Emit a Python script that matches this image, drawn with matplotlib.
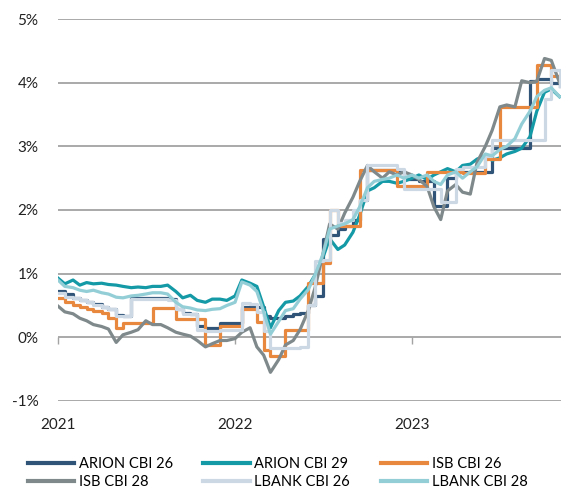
import pandas as pd
import matplotlib
matplotlib.use("Agg")
import matplotlib.pyplot as plt

# semi-monthly observations, Jan 2021 - Nov 2023 (values in %)
dates = pd.date_range("2021-01-01", periods=69, freq="SMS")

arion_26 = [0.73, 0.68, 0.62, 0.58, 0.55, 0.52, 0.48, 0.45, 0.35, 0.33,
            0.62, 0.62, 0.62, 0.62, 0.62, 0.60, 0.45, 0.38, 0.36, 0.17,
            0.15, 0.15, 0.22, 0.22, 0.22, 0.48, 0.48, 0.48, 0.33, 0.30,
            0.30, 0.33, 0.36, 0.38, 0.50, 0.65, 1.55, 1.60, 1.70, 1.75,
            1.85, 2.15, 2.63, 2.63, 2.63, 2.63, 2.63, 2.48, 2.48, 2.45,
            2.45, 2.07, 2.07, 2.50, 2.60, 2.60, 2.60, 2.60, 2.60, 2.97,
            2.97, 2.97, 2.97, 2.97, 4.03, 4.05, 4.05, 4.00, 3.95]
arion_29 = [0.93, 0.84, 0.90, 0.82, 0.86, 0.84, 0.85, 0.83, 0.82, 0.80,
            0.78, 0.79, 0.78, 0.80, 0.80, 0.82, 0.72, 0.62, 0.66, 0.58,
            0.55, 0.60, 0.60, 0.58, 0.65, 0.90, 0.85, 0.80, 0.48, 0.15,
            0.42, 0.55, 0.57, 0.65, 0.80, 0.98, 1.25, 1.55, 1.38, 1.45,
            1.65, 1.92, 2.30, 2.35, 2.45, 2.45, 2.42, 2.45, 2.50, 2.55,
            2.48, 2.55, 2.60, 2.65, 2.60, 2.70, 2.72, 2.80, 2.85, 2.78,
            2.82, 2.88, 2.92, 2.97, 3.15, 3.55, 3.85, 3.90, 3.78]
isb_26 = [0.62, 0.55, 0.50, 0.48, 0.45, 0.42, 0.38, 0.30, 0.15, 0.23,
          0.23, 0.23, 0.23, 0.46, 0.46, 0.46, 0.28, 0.28, 0.28, 0.28,
          -0.12, -0.12, 0.18, 0.18, 0.18, 0.45, 0.45, 0.24, -0.20, -0.30,
          -0.30, 0.12, 0.12, 0.12, 0.85, 0.85, 1.17, 2.00, 1.75, 1.75,
          1.75, 2.63, 2.63, 2.63, 2.63, 2.63, 2.37, 2.37, 2.37, 2.37,
          2.60, 2.60, 2.60, 2.60, 2.60, 2.58, 2.58, 2.58, 2.80, 2.80,
          3.62, 3.62, 3.62, 3.62, 3.62, 4.27, 4.27, 4.10, 4.02]
isb_28 = [0.49, 0.40, 0.37, 0.30, 0.26, 0.20, 0.17, 0.13, -0.08, 0.04,
          0.08, 0.12, 0.26, 0.20, 0.20, 0.15, 0.08, 0.05, 0.02, -0.05,
          -0.15, -0.10, -0.05, -0.05, -0.02, 0.08, 0.15, -0.15, -0.28, -0.55,
          -0.35, -0.12, -0.05, 0.12, 0.42, 0.78, 1.30, 1.78, 1.70, 1.95,
          2.20, 2.45, 2.70, 2.60, 2.50, 2.60, 2.55, 2.60, 2.55, 2.48,
          2.37, 2.05, 1.85, 2.30, 2.40, 2.28, 2.25, 2.75, 3.00, 3.25,
          3.62, 3.65, 3.62, 4.03, 4.00, 4.02, 4.38, 4.35, 4.00]
lbank_26 = [0.70, 0.64, 0.62, 0.58, 0.55, 0.50, 0.47, 0.44, 0.33, 0.33,
            0.60, 0.60, 0.60, 0.60, 0.60, 0.58, 0.44, 0.36, 0.36, 0.12,
            0.10, 0.10, 0.12, 0.12, 0.12, 0.54, 0.52, 0.40, 0.10, -0.17,
            -0.17, -0.17, -0.17, -0.15, 0.50, 1.20, 1.22, 2.00, 1.80, 1.85,
            2.00, 2.15, 2.70, 2.70, 2.70, 2.70, 2.65, 2.33, 2.33, 2.33,
            2.33, 2.33, 2.13, 2.13, 2.65, 2.68, 2.68, 2.68, 2.85, 3.10,
            3.10, 3.10, 3.10, 3.10, 3.10, 3.10, 3.75, 4.20, 3.95]
lbank_28 = [0.90, 0.80, 0.78, 0.74, 0.72, 0.74, 0.70, 0.68, 0.63, 0.62,
            0.65, 0.66, 0.68, 0.70, 0.70, 0.68, 0.55, 0.48, 0.46, 0.43,
            0.42, 0.44, 0.45, 0.50, 0.55, 0.87, 0.82, 0.72, 0.40, 0.05,
            0.25, 0.42, 0.45, 0.60, 0.75, 0.98, 1.30, 1.70, 1.75, 1.78,
            1.85, 2.05, 2.35, 2.45, 2.48, 2.50, 2.55, 2.50, 2.55, 2.50,
            2.55, 2.45, 2.40, 2.55, 2.60, 2.50, 2.60, 2.68, 2.88, 2.85,
            2.95, 3.00, 3.12, 3.35, 3.55, 3.78, 3.88, 3.92, 3.78]

labels = ["ARION CBI 26", "ARION CBI 29", "ISB CBI 26",
          "ISB CBI 28", "LBANK CBI 26", "LBANK CBI 28"]
colors = ["#2f5478", "#1499a7", "#e8873e", "#7f898b", "#cdd8e5", "#93ced7"]
stepped = [True, False, True, False, True, False]
y_ticks = [-1, 0, 1, 2, 3, 4, 5]
year_ticks = ["2021", "2022", "2023"]

plt.rcParams["font.family"] = ["Lato", "DejaVu Sans"]

fig = plt.figure(figsize=(5.87, 4.94), dpi=100)
ax = fig.add_axes([0.0988, 0.1883, 0.8569, 0.7732])

series = [arion_26, arion_29, isb_26, isb_28, lbank_26, lbank_28]
handles = []
for vals, lab, col, st in zip(series, labels, colors, stepped):
    h, = ax.plot(dates, vals, color=col, lw=2.3, label=lab,
                 drawstyle="steps-post" if st else "default",
                 solid_joinstyle="round")
    handles.append(h)

ax.set_ylim(-1, 5)
ax.set_xlim(pd.Timestamp("2021-01-01"), pd.Timestamp("2023-11-04"))
ax.set_yticks(y_ticks)
ax.set_yticklabels([f"{v}%" for v in y_ticks])
ax.grid(axis="y", color="#a3a3a3", lw=1.3)
ax.set_axisbelow(True)
for s in ["top", "right", "left"]:
    ax.spines[s].set_visible(False)

# small year ticks hang off the 0% line
year_pos = [pd.Timestamp(f"{y}-01-01") for y in year_ticks]
ax.spines["bottom"].set_position(("data", 0))
ax.spines["bottom"].set_visible(False)
ax.set_xticks(year_pos)
ax.tick_params(axis="x", length=5, width=1, color="#a3a3a3", labelbottom=False)
ax.tick_params(axis="y", length=0, pad=14, labelsize=11, labelcolor="#222222")

sec = ax.secondary_xaxis("bottom")
sec.set_xticks(year_pos)
sec.set_xticklabels(year_ticks)
sec.tick_params(length=0, pad=12, labelsize=11, labelcolor="#222222")
sec.spines["bottom"].set_visible(False)

# legend is filled column-wise, so reorder to read row-wise like the original
order = [0, 3, 1, 4, 2, 5]
leg = fig.legend([handles[i] for i in order], [labels[i] for i in order],
                 loc="upper left", bbox_to_anchor=(0.047, 0.075), ncol=3,
                 frameon=False, fontsize=10.5, handlelength=3.2,
                 handletextpad=0.3, columnspacing=2.1, labelspacing=0.3,
                 borderpad=0, borderaxespad=0)
for line in leg.get_lines():
    line.set_linewidth(3)

fig.savefig("out.png", dpi=100)
